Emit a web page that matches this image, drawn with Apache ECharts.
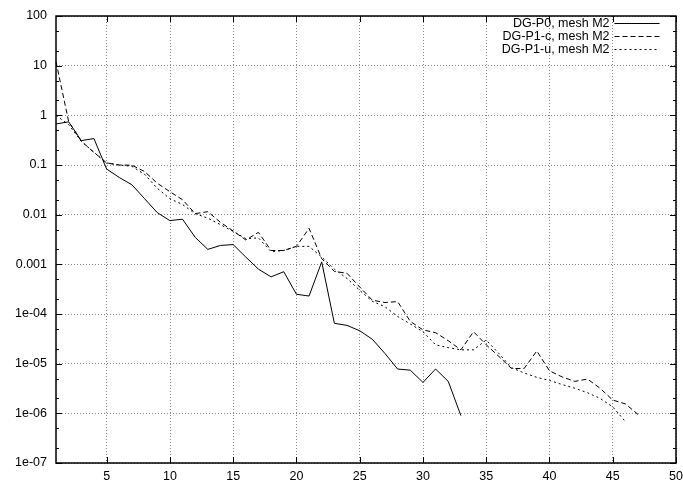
<!DOCTYPE html>
<html>
<head>
<meta charset="utf-8">
<script src="https://cdn.jsdelivr.net/npm/echarts@6/dist/echarts.min.js"></script>
<style>
  html, body { margin: 0; padding: 0; background: #fff; }
  #chart { width: 683px; height: 482px; }
</style>
</head>
<body>
<div id="chart"></div>
<script>
// Residual per iteration for the three discretisations on mesh M2
const seriesNames = ['DG-P0, mesh M2', 'DG-P1-c, mesh M2', 'DG-P1-u, mesh M2'];

const residP0 = [
  0.67, 0.74, 0.31, 0.34, 0.083, 0.056, 0.040, 0.021, 0.011, 0.0076,
  0.0081, 0.0035, 0.0020, 0.0024, 0.0025, 0.0014, 0.0008, 0.00056, 0.00071, 0.00025,
  0.00023, 0.00112, 6.5e-5, 5.9e-5, 4.6e-5, 3.1e-5, 1.6e-5, 7.8e-6, 7.4e-6, 4.2e-6,
  7.8e-6, 4.4e-6, 9e-7
];

const residP1c = [
  12, 0.75, 0.30, 0.18, 0.11, 0.10, 0.099, 0.074, 0.043, 0.029,
  0.020, 0.0105, 0.0115, 0.0070, 0.0047, 0.0031, 0.0044, 0.0019, 0.0019, 0.0023,
  0.0053, 0.0013, 0.00072, 0.00066, 0.00035, 0.00019, 0.00017, 0.000178, 7.1e-5, 4.8e-5,
  4.2e-5, 2.9e-5, 1.9e-5, 4.4e-5, 2.4e-5, 1.4e-5, 8.0e-6, 8.0e-6, 1.8e-5, 7.2e-6,
  5.4e-6, 4.4e-6, 4.9e-6, 3.2e-6, 1.85e-6, 1.55e-6, 9.5e-7
];

const residP1u = [
  1.0, 0.65, 0.30, 0.18, 0.11, 0.10, 0.094, 0.065, 0.034, 0.021,
  0.016, 0.0105, 0.0085, 0.0063, 0.0046, 0.0033, 0.0034, 0.0018, 0.0019, 0.0023,
  0.0023, 0.0014, 0.00080, 0.00052, 0.00030, 0.00018, 0.00014, 8.9e-5, 6.3e-5, 4.4e-5,
  2.4e-5, 2.1e-5, 1.9e-5, 1.9e-5, 3.0e-5, 1.6e-5, 8.3e-6, 6.5e-6, 5.3e-6, 4.6e-6,
  3.8e-6, 3.2e-6, 2.6e-6, 2.0e-6, 1.35e-6, 6.8e-7
];

const xTicks = [5, 10, 15, 20, 25, 30, 35, 40, 45, 50];
const yTicks = [1e-7, 1e-6, 1e-5, 1e-4, 1e-3, 1e-2, 1e-1, 1, 10, 100];
const yTickLabels = ['1e-07', '1e-06', '1e-05', '1e-04', '0.001', '0.01', '0.1', '1', '10', '100'];
const yMinorTicks = [];
yTicks.slice(0, -1).forEach(d => { yMinorTicks.push(d * 2, d * 5); });

const X_MIN = 1, X_MAX = 50, Y_MIN = 1e-7, Y_MAX = 100;

const toPairs = arr => arr.map((v, i) => [i + 1, v]);

const font = 'Liberation Sans, Arial, Helvetica, sans-serif';
const black = '#000';

function yLabel(v) {
  let best = 0;
  yTicks.forEach((t, i) => {
    if (Math.abs(Math.log10(t) - Math.log10(v)) < Math.abs(Math.log10(yTicks[best]) - Math.log10(v))) best = i;
  });
  return yTickLabels[best];
}

const gridLine = { show: true, lineStyle: { color: '#8a8a8a', type: [1, 2], width: 1 } };
const lineTypes = ['solid', [5, 3], [2, 3]];
const datasets = [residP0, residP1c, residP1u];

const chart = echarts.init(document.getElementById('chart'), null, { renderer: 'canvas' });
chart.setOption({
  animation: false,
  backgroundColor: '#fff',
  grid: { left: 56, right: 7, top: 16, bottom: 19, containLabel: false, outerBoundsMode: 'none' },
  xAxis: {
    type: 'value', min: X_MIN, max: X_MAX,
    axisLine: { show: false, onZero: false },
    axisTick: { show: false, customValues: xTicks },
    axisLabel: { show: true, customValues: xTicks, margin: 7, color: black, fontSize: 12.5, fontFamily: font },
    splitLine: gridLine
  },
  yAxis: {
    type: 'log', min: Y_MIN, max: Y_MAX,
    axisLine: { show: false, onZero: false },
    axisTick: { show: false, customValues: yTicks },
    axisLabel: { show: true, customValues: yTicks, formatter: yLabel, margin: 9, color: black, fontSize: 12.5, fontFamily: font },
    splitLine: gridLine
  },
  legend: {
    orient: 'vertical', right: 23, top: 17, align: 'right',
    padding: 0, itemGap: 0, itemWidth: 45, itemHeight: 12,
    itemStyle: { opacity: 0 },
    lineStyle: { width: 1 },
    textStyle: { color: black, fontSize: 12.5, fontFamily: font },
    data: seriesNames
  },
  series: datasets.map((arr, i) => ({
    name: seriesNames[i],
    type: 'line',
    symbol: 'none',
    data: toPairs(arr),
    lineStyle: { color: black, width: 1, type: lineTypes[i] },
    itemStyle: { color: black }
  }))
});

// Plot frame and inward tick marks on all four sides, placed through the axis scales
function drawFrame() {
  const px = (x, y) => chart.convertToPixel({ gridIndex: 0 }, [x, y]);
  const tl = px(X_MIN, Y_MAX), br = px(X_MAX, Y_MIN);
  const xL = tl[0], yT = tl[1], xR = br[0], yB = br[1];
  const tickStyle = { stroke: black, lineWidth: 1 };
  const els = [];
  const seg = (x1, y1, x2, y2) =>
    els.push({ type: 'line', silent: true, z: 50, shape: { x1, y1, x2, y2 }, style: tickStyle });
  xTicks.forEach(t => {
    const x = Math.round(px(t, Y_MIN)[0]) + 0.5;
    seg(x, yB, x, yB - 6);
    seg(x, yT, x, yT + 6);
  });
  yTicks.forEach(t => {
    const y = Math.round(px(X_MIN, t)[1]) + 0.5;
    seg(xL, y, xL + 6, y);
    seg(xR, y, xR - 6, y);
  });
  yMinorTicks.forEach(t => {
    const y = Math.round(px(X_MIN, t)[1]) + 0.5;
    seg(xL, y, xL + 3, y);
    seg(xR, y, xR - 3, y);
  });
  els.push({
    type: 'rect', silent: true, z: 51,
    shape: { x: xL, y: yT, width: xR - xL, height: yB - yT },
    style: { fill: null, stroke: black, lineWidth: 1.5 }
  });
  chart.setOption({ graphic: { elements: els } });
}
drawFrame();
</script>
</body>
</html>
